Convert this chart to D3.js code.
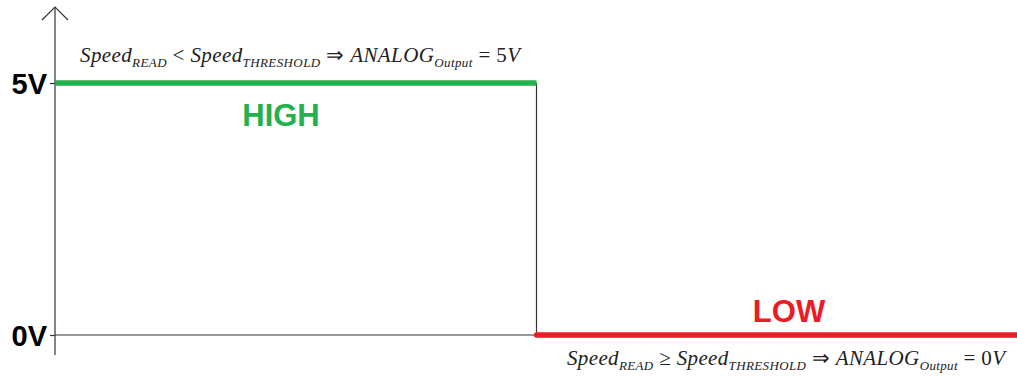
<!DOCTYPE html>
<html><head><meta charset="utf-8">
<script src="https://cdn.jsdelivr.net/npm/d3@7"></script>
<style>html,body{margin:0;padding:0;background:#fff;}</style>
</head><body>
<svg id="c" width="1017" height="376"></svg>
<script>
// ---- data ----
const levelValues = [5, 0];
const levelLabels = ["5V", "0V"];
const timeDomain = [0, 2];
const switchTime = 1;
const highSegment = [[0, 5], [1, 5]];
const lowSegment = [[1, 0], [2, 0]];
const stateLabels = ["HIGH", "LOW"];
const formulaHigh = [
  {t: "Speed", s: false}, {t: "READ", s: true}, {t: " < ", s: false, up: true},
  {t: "Speed", s: false}, {t: "THRESHOLD", s: true}, {t: " ⇒ ", s: false, up: true},
  {t: "ANALOG", s: false}, {t: "Output", s: true}, {t: " = 5", s: false, up: true}, {t: "V", s: false}
];
const formulaLow = [
  {t: "Speed", s: false}, {t: "READ", s: true}, {t: " ≥ ", s: false, up: true},
  {t: "Speed", s: false}, {t: "THRESHOLD", s: true}, {t: " ⇒ ", s: false, up: true},
  {t: "ANALOG", s: false}, {t: "Output", s: true}, {t: " = 0", s: false, up: true}, {t: "V", s: false}
];

// ---- chart ----
const svg = d3.select("#c");
const x = d3.scaleLinear().domain(timeDomain).range([55, 1018]);
const y = d3.scaleLinear().domain([0, 5]).range([335, 83]);

// y axis with ticks/labels
const yAxis = d3.axisLeft(y).tickValues(levelValues)
  .tickFormat((d, i) => levelLabels[i]).tickSize(5).tickPadding(3);
const ga = svg.append("g").attr("transform", `translate(${x(0)},0)`).call(yAxis);
ga.select(".domain").remove();
ga.selectAll(".tick line").attr("stroke", "#333").attr("stroke-width", 1.2);
ga.selectAll(".tick text").attr("font-family", "Liberation Sans, Arial, sans-serif")
  .attr("font-weight", "bold").attr("font-size", 29).attr("fill", "#000").attr("dy", "0.36em");

// vertical axis with arrow
const ax = x(0);
svg.append("line").attr("x1", ax).attr("x2", ax).attr("y1", 7).attr("y2", 355)
  .attr("stroke", "#333").attr("stroke-width", 1.2);
svg.append("path").attr("d", `M${ax - 13},20 L${ax},7 L${ax + 13},20`)
  .attr("fill", "none").attr("stroke", "#333").attr("stroke-width", 1.2);

// baseline (0V) from axis to switch, and switch edge
svg.append("line").attr("x1", x(0)).attr("x2", x(switchTime)).attr("y1", y(0)).attr("y2", y(0))
  .attr("stroke", "#333").attr("stroke-width", 1.2);
svg.append("line").attr("x1", x(switchTime)).attr("x2", x(switchTime)).attr("y1", y(5)).attr("y2", y(0))
  .attr("stroke", "#333").attr("stroke-width", 1.2);

const line = d3.line().x(d => x(d[0])).y(d => y(d[1]));
svg.append("path").attr("d", line(highSegment)).attr("stroke", "#22B14C")
  .attr("stroke-width", 5.5).attr("fill", "none");
svg.append("path").attr("d", line(lowSegment)).attr("stroke", "#ED1C24")
  .attr("stroke-width", 5.5).attr("fill", "none").attr("stroke-linecap", "round");

// state labels
svg.append("text").attr("x", 281).attr("y", 126).attr("text-anchor", "middle")
  .attr("font-family", "Liberation Sans, Arial, sans-serif").attr("font-weight", "bold")
  .attr("font-size", 31).attr("fill", "#22B14C").text(stateLabels[0]);
svg.append("text").attr("x", 789).attr("y", 322).attr("text-anchor", "middle")
  .attr("font-family", "Liberation Sans, Arial, sans-serif").attr("font-weight", "bold")
  .attr("font-size", 31).attr("fill", "#ED1C24").text(stateLabels[1]);

// formulas
function formula(parts, x0, base, width) {
  const t = svg.append("text").attr("x", x0).attr("y", base)
    .attr("font-family", "Liberation Serif, Times New Roman, serif").attr("fill", "#222");
  let prevSub = false;
  parts.forEach(p => {
    const ts = t.append("tspan").text(p.t)
      .attr("font-size", p.s ? 13 : 21)
      .attr("font-style", p.up ? "normal" : "italic");
    if (p.s && !prevSub) ts.attr("dy", 5);
    if (!p.s && prevSub) ts.attr("dy", -5);
    prevSub = p.s;
  });
  t.attr("textLength", width).attr("lengthAdjust", "spacing");
}
formula(formulaHigh, 80, 62, 440);
formula(formulaLow, 567, 365, 438);
</script>
</body></html>
